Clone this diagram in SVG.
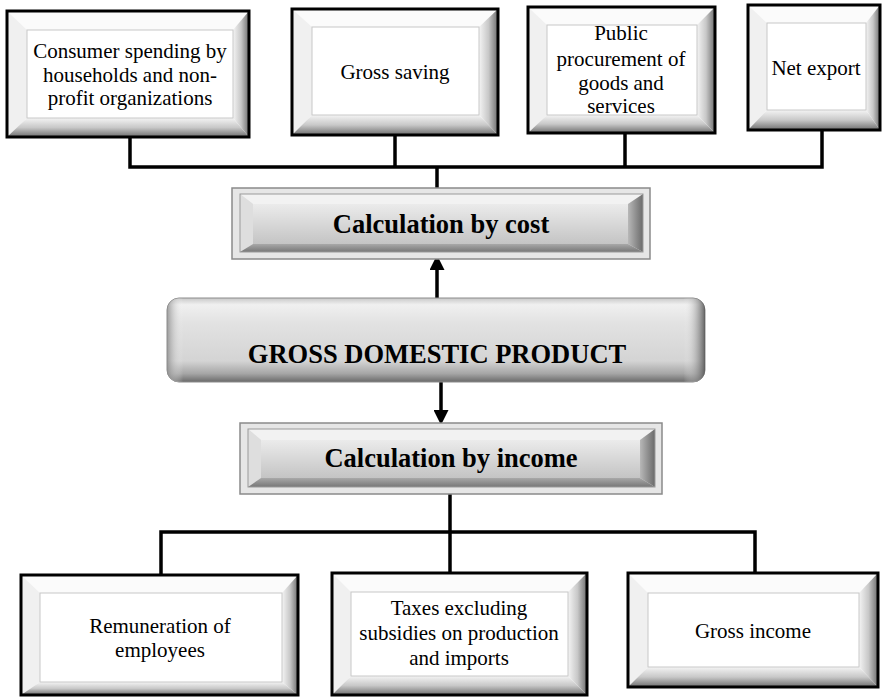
<svg xmlns="http://www.w3.org/2000/svg" width="887" height="698" viewBox="0 0 887 698">
<defs>
<linearGradient id="gR" x1="0" y1="0" x2="1" y2="0"><stop offset="0" stop-color="#f4f4f4"/><stop offset="0.5" stop-color="#c8c8c8"/><stop offset="1" stop-color="#6e6e6e"/></linearGradient>
<linearGradient id="gB" x1="0" y1="0" x2="0" y2="1"><stop offset="0" stop-color="#f4f4f4"/><stop offset="0.5" stop-color="#c8c8c8"/><stop offset="1" stop-color="#6e6e6e"/></linearGradient>
<linearGradient id="cR" x1="0" y1="0" x2="1" y2="0"><stop offset="0" stop-color="#b8b8b8"/><stop offset="1" stop-color="#6a6a6a"/></linearGradient>
<linearGradient id="cB" x1="0" y1="0" x2="0" y2="1"><stop offset="0" stop-color="#a8a8a8"/><stop offset="1" stop-color="#777"/></linearGradient>
<linearGradient id="cF" x1="0" y1="0" x2="0" y2="1"><stop offset="0" stop-color="#ebebeb"/><stop offset="1" stop-color="#c4c4c4"/></linearGradient>
<linearGradient id="gdpV" x1="0" y1="0" x2="0" y2="1"><stop offset="0" stop-color="#c8c8c8"/><stop offset="0.08" stop-color="#f0f0f0"/><stop offset="0.3" stop-color="#e2e2e2"/><stop offset="0.75" stop-color="#d4d4d4"/><stop offset="0.9" stop-color="#a6a6a6"/><stop offset="1" stop-color="#6a6a6a"/></linearGradient>
<linearGradient id="gdpH" x1="0" y1="0" x2="1" y2="0"><stop offset="0" stop-color="#888" stop-opacity="0.8"/><stop offset="0.03" stop-color="#fff" stop-opacity="0"/><stop offset="0.96" stop-color="#fff" stop-opacity="0"/><stop offset="1" stop-color="#555" stop-opacity="0.9"/></linearGradient>
<marker id="ah" viewBox="0 0 15 15" refX="0" refY="7.5" markerWidth="15" markerHeight="15" markerUnits="userSpaceOnUse" orient="auto"><path d="M0,0 L15,7.5 L0,15 z" fill="#000"/></marker>
</defs>
<style>
.outer{fill:#fff;stroke:none}
.frame{fill:none;stroke:#000;stroke-width:3}
.bt{fill:#fbfbfb}
.bl{fill:#f0f0f0}
.br{fill:url(#gR)}
.bb{fill:url(#gB)}
.panel{fill:#fff;stroke:#c8c8c8;stroke-width:1}
text{font-family:'Liberation Serif','DejaVu Serif','Noto Serif',Times,serif;fill:#000;text-anchor:middle}
.t{font-size:21px}
.tb{font-weight:bold;font-size:26.5px}
.couter{fill:#e6e6e6;stroke:#8a8a8a;stroke-width:1.5}
.cframe{fill:none;stroke:#9a9a9a;stroke-width:1}
.ct{fill:#f2f2f2}
.cl{fill:#dedede}
.cr{fill:url(#cR)}
.cb{fill:url(#cB)}
.cf{fill:url(#cF)}
.ln{fill:none;stroke:#000;stroke-width:3.5;stroke-linejoin:miter}
.ar{fill:none;stroke:#000;stroke-width:3.5;marker-end:url(#ah)}
</style>

<g id="connectors">
<path class="ln" d="M130,137 V167 H822 V130"/>
<path class="ln" d="M395,135 V167"/>
<path class="ln" d="M625,133 V167"/>
<path class="ln" d="M437,167 V188"/>
<path class="ar" d="M437,298 V270"/>
<path class="ar" d="M441,382 V410"/>
<path class="ln" d="M450,494 V573"/>
<path class="ln" d="M161,575 V532 H755 V573"/>
</g>

<g id="n-consumer">
<rect class="outer" x="7" y="11" width="242" height="126"/>
<polygon class="bt" points="7,11 249,11 233,30 27,30"/>
<polygon class="bl" points="7,11 27,30 27,118 7,137"/>
<polygon class="br" points="233,30 249,11 249,137 233,118"/>
<polygon class="bb" points="27,118 233,118 249,137 7,137"/>
<rect class="panel" x="27" y="30" width="206" height="88"/>
<rect class="frame" x="7" y="11" width="242" height="126"/>
<text class="t" x="130" y="58">Consumer spending by</text>
<text class="t" x="130" y="82">households and non-</text>
<text class="t" x="130" y="105">profit organizations</text>
</g>

<g id="n-saving">
<rect class="outer" x="292" y="9" width="206" height="126"/>
<polygon class="bt" points="292,9 498,9 479,27 312,27"/>
<polygon class="bl" points="292,9 312,27 312,115 292,135"/>
<polygon class="br" points="479,27 498,9 498,135 479,115"/>
<polygon class="bb" points="312,115 479,115 498,135 292,135"/>
<rect class="panel" x="312" y="27" width="167" height="88"/>
<rect class="frame" x="292" y="9" width="206" height="126"/>
<text class="t" x="395" y="79">Gross saving</text>
</g>

<g id="n-public">
<rect class="outer" x="528" y="7" width="187" height="126"/>
<polygon class="bt" points="528,7 715,7 697,25 547,25"/>
<polygon class="bl" points="528,7 547,25 547,115 528,133"/>
<polygon class="br" points="697,25 715,7 715,133 697,115"/>
<polygon class="bb" points="547,115 697,115 715,133 528,133"/>
<rect class="panel" x="547" y="25" width="150" height="90"/>
<rect class="frame" x="528" y="7" width="187" height="126"/>
<text class="t" x="621" y="40">Public</text>
<text class="t" x="621" y="66">procurement of</text>
<text class="t" x="621" y="90">goods and</text>
<text class="t" x="621" y="113">services</text>
</g>

<g id="n-export">
<rect class="outer" x="748" y="5" width="132" height="125"/>
<polygon class="bt" points="748,5 880,5 866,23 767,23"/>
<polygon class="bl" points="748,5 767,23 767,110 748,130"/>
<polygon class="br" points="866,23 880,5 880,130 866,110"/>
<polygon class="bb" points="767,110 866,110 880,130 748,130"/>
<rect class="panel" x="767" y="23" width="99" height="87"/>
<rect class="frame" x="748" y="5" width="132" height="125"/>
<text class="t" x="816" y="75">Net export</text>
</g>

<g id="n-cost">
<rect class="couter" x="232" y="188" width="418" height="71"/>
<polygon class="ct" points="240,194 643,194 628,204 253,204"/>
<polygon class="cl" points="240,194 253,204 253,244 240,252"/>
<polygon class="cr" points="628,204 643,194 643,252 628,244"/>
<polygon class="cb" points="253,244 628,244 643,252 240,252"/>
<rect class="cf" x="253" y="204" width="375" height="40"/>
<rect class="cframe" x="240" y="194" width="403" height="58"/>
<text class="tb" x="441" y="233">Calculation by cost</text>
</g>

<g id="n-gdp">
<rect x="167" y="298" width="538" height="84" rx="12" fill="url(#gdpV)" stroke="#8c8c8c" stroke-width="1"/>
<rect x="167" y="298" width="538" height="84" rx="12" fill="url(#gdpH)"/>
<text class="tb" x="437" y="363">GROSS DOMESTIC PRODUCT</text>
</g>

<g id="n-income">
<rect class="couter" x="240" y="423" width="422" height="71"/>
<polygon class="ct" points="248,429 655,429 640,440 261,440"/>
<polygon class="cl" points="248,429 261,440 261,478 248,487"/>
<polygon class="cr" points="640,440 655,429 655,487 640,478"/>
<polygon class="cb" points="261,478 640,478 655,487 248,487"/>
<rect class="cf" x="261" y="440" width="379" height="38"/>
<rect class="cframe" x="248" y="429" width="407" height="58"/>
<text class="tb" x="451" y="467">Calculation by income</text>
</g>

<g id="n-remuneration">
<rect class="outer" x="21" y="575" width="277" height="120"/>
<polygon class="bt" points="21,575 298,575 282,593 40,593"/>
<polygon class="bl" points="21,575 40,593 40,682 21,695"/>
<polygon class="br" points="282,593 298,575 298,695 282,682"/>
<polygon class="bb" points="40,682 282,682 298,695 21,695"/>
<rect class="panel" x="40" y="593" width="242" height="89"/>
<rect class="frame" x="21" y="575" width="277" height="120"/>
<text class="t" x="160" y="633">Remuneration of</text>
<text class="t" x="160" y="657">employees</text>
</g>

<g id="n-taxes">
<rect class="outer" x="332" y="573" width="255" height="122"/>
<polygon class="bt" points="332,573 587,573 568,592 351,592"/>
<polygon class="bl" points="332,573 351,592 351,676 332,695"/>
<polygon class="br" points="568,592 587,573 587,695 568,676"/>
<polygon class="bb" points="351,676 568,676 587,695 332,695"/>
<rect class="panel" x="351" y="592" width="217" height="84"/>
<rect class="frame" x="332" y="573" width="255" height="122"/>
<text class="t" x="459" y="615">Taxes excluding</text>
<text class="t" x="459" y="640">subsidies on production</text>
<text class="t" x="459" y="665">and imports</text>
</g>

<g id="n-grossincome">
<rect class="outer" x="628" y="573" width="250" height="114"/>
<polygon class="bt" points="628,573 878,573 859,593 648,593"/>
<polygon class="bl" points="628,573 648,593 648,667 628,687"/>
<polygon class="br" points="859,593 878,573 878,687 859,667"/>
<polygon class="bb" points="648,667 859,667 878,687 628,687"/>
<rect class="panel" x="648" y="593" width="211" height="74"/>
<rect class="frame" x="628" y="573" width="250" height="114"/>
<text class="t" x="753" y="638">Gross income</text>
</g>
</svg>
